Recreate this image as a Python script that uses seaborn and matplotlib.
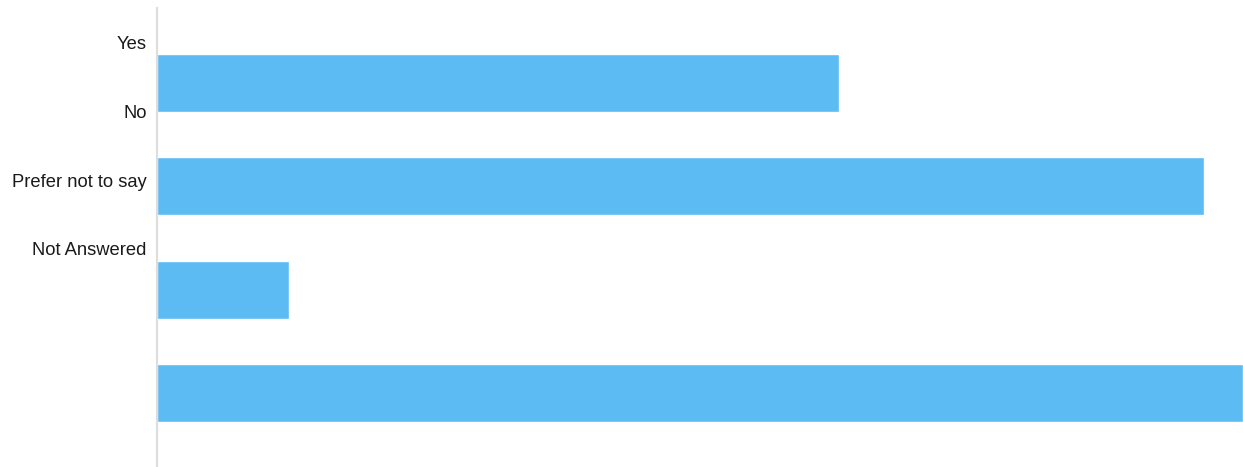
import matplotlib
matplotlib.use("Agg")
import matplotlib.pyplot as plt
import seaborn as sns
import pandas as pd

# Data
categories = ["Yes", "No", "Prefer not to say", "Not Answered"]
values = [62.8, 96.4, 12.2, 100.0]
tick_labels = ["Yes", "No", "Prefer not to say", "Not Answered"]
label_positions = [-0.39, 0.28, 0.945, 1.605]

df = pd.DataFrame({"category": categories, "value": values})

sns.set_theme(style="white")
plt.rcParams["font.family"] = ["Liberation Sans", "DejaVu Sans"]

fig = plt.figure(figsize=(12.43, 4.67), dpi=100)
ax = fig.add_axes([156.5 / 1243, 0.0, 1 - 156.5 / 1243, 1 - 8 / 467])

sns.barplot(data=df, y="category", x="value", orient="h", color="#5dbbf3",
            saturation=1, width=0.561, ax=ax)

ax.set_xlim(0, 100)
ax.set_ylim(3.716, -0.726)
ax.set_xlabel("")
ax.set_ylabel("")
ax.set_xticks([])
ax.set_yticks(label_positions)
ax.set_yticklabels(tick_labels, fontsize=13.2, color="#1a1a1a")
ax.tick_params(axis="y", length=0, pad=7)

for s in ["top", "right", "bottom"]:
    ax.spines[s].set_visible(False)
ax.spines["left"].set_color("#dddddd")
ax.spines["left"].set_linewidth(1.5)

fig.savefig("out.png", dpi=100)
